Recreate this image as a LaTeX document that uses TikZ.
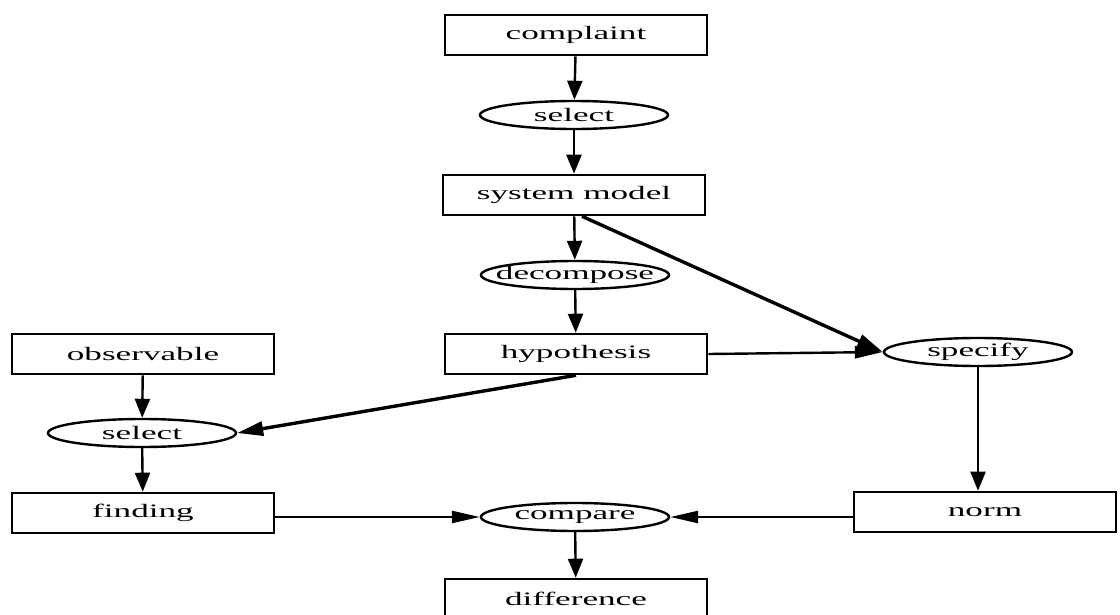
\documentclass[tikz,border=0pt]{standalone}
\usepackage{fontspec}
\setmainfont[FakeStretch=1.85]{Liberation Serif}
\usetikzlibrary{shapes.geometric,arrows.meta}

\begin{document}
\begin{tikzpicture}[x=1pt, y=-1pt,
  box/.style={draw, line width=2.6pt, minimum width=262pt, minimum height=40pt, inner sep=0pt, font=\fontsize{19}{22}\selectfont},
  act/.style={draw, ellipse, line width=2.4pt, minimum width=188pt, minimum height=28pt, inner xsep=-16pt, inner ysep=0pt, font=\fontsize{19}{22}\selectfont},
  vflow/.style={line width=2.4pt, -{Triangle[length=19pt,width=15pt]}},
  hflow/.style={line width=2.4pt, -{Triangle[length=28pt,width=12pt]}},
  dflow/.style={line width=3.4pt, -{Triangle[length=26pt,width=14pt]}}]
\useasboundingbox (0,0) rectangle (1120,615);

% middle column
\node [box] (complaint) at (576,35) {complaint};
\node [act] (sel1) at (574,115) {select};
\node [box] (model) at (574,195) {system model};
\node [act] (decomp) at (575,275) {decompose};
\node [box] (hyp) at (576,354) {hypothesis};
\node [act] (comp) at (575,517) {compare};
\node [box] (diff) at (576,599) {difference};

% left column
\node [box] (obs) at (143,354) {observable};
\node [act] (sel2) at (142,433) {select};
\node [box] (find) at (143,513) {finding};

% right column
\node [act] (spec) at (978,352) {specify};
\node [box] (norm) at (985,512) {norm};

\draw [vflow] (complaint) -- (sel1);
\draw [vflow] (sel1) -- (model);
\draw [vflow] (model) -- (decomp);
\draw [vflow] (decomp) -- (hyp);
\draw [vflow] (obs) -- (sel2);
\draw [vflow] (sel2) -- (find);
\draw [vflow] (spec.south) -- (spec.south |- norm.north);
\draw [vflow] (comp) -- (diff);

\draw [hflow] (hyp.east) -- (spec.west);
\draw [hflow] (find.east |- comp) -- (comp.west);
\draw [hflow] (norm.west |- comp) -- (comp.east);

\draw [dflow] ([xshift=8pt]model.south) -- (spec.west);
\draw [dflow] (hyp.south) -- (sel2.east);
\end{tikzpicture}
\end{document}
